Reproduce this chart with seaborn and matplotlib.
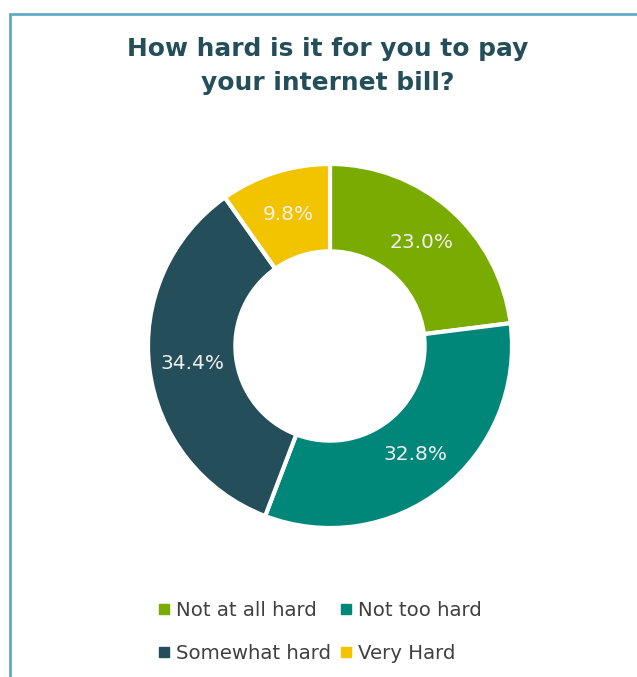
import matplotlib
matplotlib.use("Agg")
import matplotlib.pyplot as plt
from matplotlib.lines import Line2D
from matplotlib.patches import Rectangle
import seaborn as sns

categories = ["Not at all hard", "Not too hard", "Somewhat hard", "Very Hard"]
shares = [23.0, 32.8, 34.4, 9.8]
hex_colors = ["#7aab00", "#00877a", "#244e5a", "#f2c400"]

sns.set_theme(style="white")
plt.rcParams["font.family"] = ["DejaVu Sans"]
palette = sns.color_palette(hex_colors)

W, H = 637, 677
fig = plt.figure(figsize=(W / 100, H / 100), dpi=100)
fig.patch.set_facecolor("white")

# frame line on left/top like the source screenshot
fig.patches.append(Rectangle((9.5 / W, -0.1), 1.2, 1.1 - 13.5 / H, transform=fig.transFigure,
                             fill=False, edgecolor="#62a9c6", linewidth=2))

# donut
cx, cy, r = 330, 346, 182
ax = fig.add_axes([(cx - r) / W, (H - cy - r) / H, 2 * r / W, 2 * r / H])
wedges, texts, autotexts = ax.pie(
    shares, colors=palette, startangle=90, counterclock=False,
    autopct="%.1f%%", pctdistance=0.76, radius=1.0,
    wedgeprops=dict(width=0.48, edgecolor="white", linewidth=3),
    textprops=dict(color="#f0f0f0", fontsize=14.5))
ax.set_xlim(-1, 1)
ax.set_ylim(-1, 1)
ax.set_aspect("equal")
ax.axis("off")

fig.text(328 / W, 1 - 66 / H, "How hard is it for you to pay\nyour internet bill?",
         ha="center", va="center", fontsize=17.9, fontweight="bold",
         color="#244e5a", linespacing=1.55)

# legend filled row by row, as in the source
order = [0, 2, 1, 3]
handles = [Line2D([], [], marker="s", linestyle="", markersize=7,
                  markerfacecolor=palette[i], markeredgecolor=palette[i]) for i in order]
labels = [categories[i] for i in order]
fig.legend(handles, labels, ncol=2, loc="center",
           bbox_to_anchor=(319 / W, 1 - 632 / H), frameon=False,
           fontsize=14.2, labelcolor="#404040", handletextpad=0.2,
           handlelength=0.8, columnspacing=0.4, labelspacing=1.25)

fig.savefig("out.png", dpi=100, facecolor="white")
